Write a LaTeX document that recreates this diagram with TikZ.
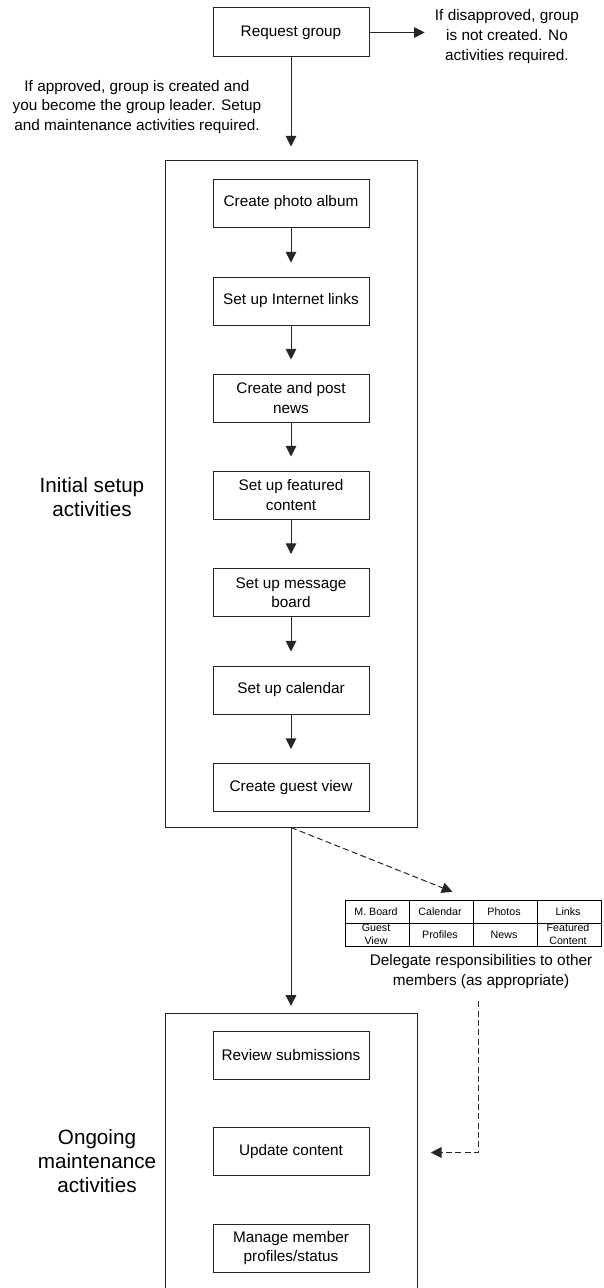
\documentclass[tikz,border=0pt]{standalone}
\usepackage{fontspec}
\setmainfont{Liberation Sans}
\usetikzlibrary{positioning, arrows.meta, matrix}
\newcommand{\twoline}[2]{\raisebox{-2.5pt}[0pt][0pt]{\renewcommand{\arraystretch}{1.22}\begin{tabular}{@{}c@{}}#1\\#2\end{tabular}}}

\begin{document}
\begin{tikzpicture}[
    x=0.75pt, y=-0.75pt,
    font=\fontsize{11.5}{14.5}\selectfont,
    stepbox/.style={rectangle, draw=black!85, line width=0.75pt, minimum width=117pt,
        minimum height=36pt, align=center, inner sep=3pt},
    groupbox/.style={rectangle, draw=black!85, line width=0.75pt, minimum width=189pt},
    phase/.style={align=center, inner sep=0pt, font=\fontsize{15.5}{18}\selectfont},
    note/.style={align=center, inner sep=0pt},
    arr/.style={-{Triangle[length=8pt, width=8pt]}, line width=0.75pt, black!85},
    darr/.style={arr, dash pattern=on 4.5pt off 2.5pt}
]
\path[use as bounding box] (0,0) rectangle (603,1288);
\clip (0,0) rectangle (603,1288);

% request
\node[stepbox, minimum height=36.75pt] (req) at (291,32.5) {Request group};
\node[note, font=\fontsize{11.5}{15}\selectfont] (deny) at (507,37) {If disapproved, group\\is not created. No\\activities required.};
\node[note] (approve) at (137,107) {If approved, group is created and\\you become the group leader. Setup\\and maintenance activities required.};

% initial setup
\node[groupbox, minimum height=500.25pt] (setup) at (291,493.5) {};
\node[stepbox] (album)    at (291,203)   {Create photo album};
\node[stepbox] (links)    at (291,301)   {Set up Internet links};
\node[stepbox] (news)     at (291,398)   {Create and post\\news};
\node[stepbox] (featured) at (291,495)   {Set up featured\\content};
\node[stepbox] (board)    at (291,592.5) {Set up message\\board};
\node[stepbox] (calendar) at (291,690)   {Set up calendar};
\node[stepbox] (guest)    at (291,787.5) {Create guest view};
\node[phase] (initlbl) at (92,497) {Initial setup\\activities};

% delegation
\matrix[matrix of nodes, inner sep=0pt, column sep=-0.6pt, row sep=-0.6pt,
    nodes={draw=black, line width=0.6pt, anchor=center, minimum width=48pt, minimum height=17pt,
        inner sep=0pt, align=center, font=\fontsize{8}{8}\selectfont}] (duties) at (473.5,923.5) {
    M. Board & Calendar & Photos & Links \\
    \twoline{Guest}{View} & Profiles & News & \twoline{Featured}{Content} \\
};
\node[note, font=\fontsize{11.5}{15}\selectfont] (deltext) at (481,972) {Delegate responsibilities to other\\members (as appropriate)};

% ongoing maintenance
\node[groupbox, minimum height=209.25pt] (maint) at (291,1152.5) {};
\node[stepbox] (review) at (291,1055.5) {Review submissions};
\node[stepbox] (update) at (291,1151.5) {Update content};
\node[stepbox] (manage) at (291,1248)   {Manage member\\profiles/status};
\node[phase] (ongoinglbl) at (97,1161) {Ongoing\\maintenance\\activities};

\draw[arr, shorten >=7.5pt] (req) -- (req -| deny.west);
\draw[arr, shorten >=9.75pt] (req) -- (setup);
\draw[arr, shorten >=10.5pt] (album) -- (links);
\draw[arr, shorten >=10.5pt] (links) -- (news);
\draw[arr, shorten >=10.5pt] (news) -- (featured);
\draw[arr, shorten >=10.5pt] (featured) -- (board);
\draw[arr, shorten >=10.5pt] (board) -- (calendar);
\draw[arr, shorten >=10.5pt] (calendar) -- (guest);
\draw[arr, shorten >=5pt] (setup) -- (maint);
\draw[darr, shorten >=17pt] (setup.south) -- (duties.north);
\draw[darr, shorten <=9pt, shorten >=10pt] ([xshift=-2pt]deltext.south) |- (maint.east);
\end{tikzpicture}
\end{document}
